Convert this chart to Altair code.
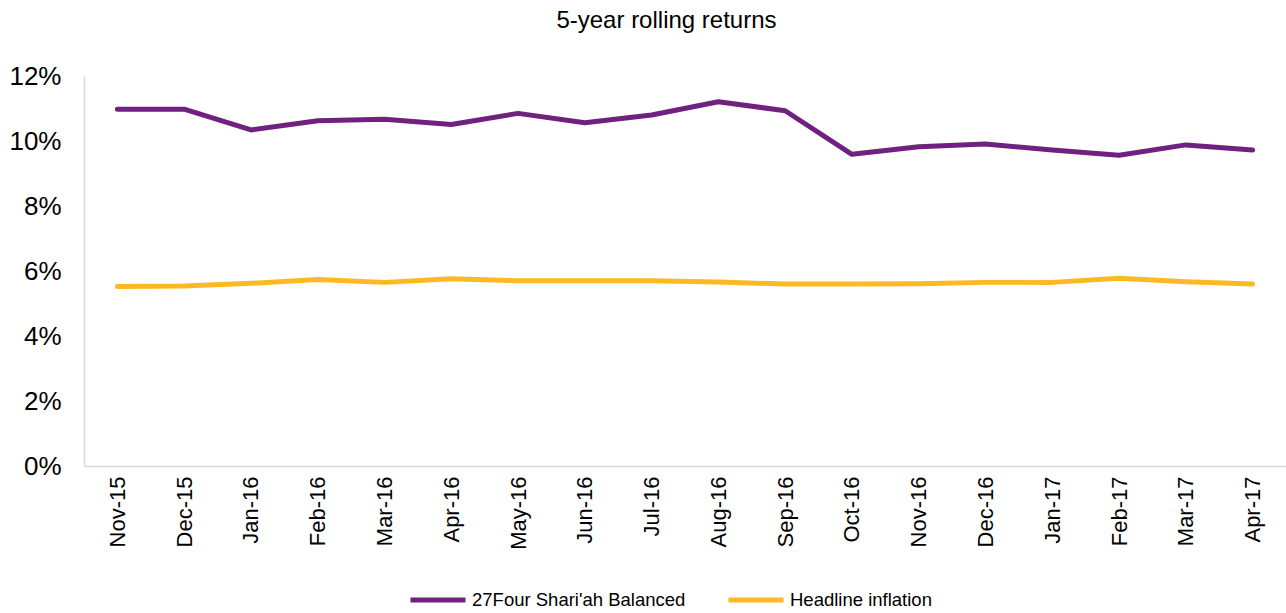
import altair as alt
import pandas as pd

months = ["Nov-15", "Dec-15", "Jan-16", "Feb-16", "Mar-16", "Apr-16", "May-16", "Jun-16",
          "Jul-16", "Aug-16", "Sep-16", "Oct-16", "Nov-16", "Dec-16", "Jan-17", "Feb-17",
          "Mar-17", "Apr-17"]
balanced = [10.98, 10.98, 10.34, 10.62, 10.67, 10.51, 10.85, 10.56, 10.80, 11.21, 10.93,
            9.59, 9.82, 9.91, 9.72, 9.56, 9.88, 9.72]
inflation = [5.52, 5.54, 5.62, 5.74, 5.65, 5.76, 5.70, 5.70, 5.70, 5.66, 5.60, 5.60,
             5.61, 5.65, 5.65, 5.78, 5.67, 5.60]
series_names = ["27Four Shari'ah Balanced", "Headline inflation"]
series_colors = ["#70207F", "#FDB924"]

rows = []
for i, m in enumerate(months):
    rows.append({"month": m, "series": series_names[0], "value": balanced[i], "order": i})
    rows.append({"month": m, "series": series_names[1], "value": inflation[i], "order": i})
df = pd.DataFrame(rows)

font = "Liberation Sans"

chart = alt.Chart(df).mark_line(strokeWidth=5, strokeCap="round", strokeJoin="round").encode(
    x=alt.X("month:N", sort=months, title=None,
            scale=alt.Scale(type="point", padding=0.5),
            axis=alt.Axis(labelAngle=-90, labelFontSize=22, labelFont=font, labelColor="#000000",
                          domainColor="#D9D9D9", domainWidth=1.5, ticks=False, labelPadding=10,
                          grid=False)),
    y=alt.Y("value:Q", title=None, scale=alt.Scale(domain=[0, 12], nice=False),
            axis=alt.Axis(values=[0, 2, 4, 6, 8, 10, 12], labelExpr="datum.value + '%'",
                          labelFontSize=26, labelFont=font, labelColor="#000000",
                          domainColor="#D9D9D9", domainWidth=1.5, ticks=False,
                          labelPadding=23, grid=False)),
    color=alt.Color("series:N", scale=alt.Scale(domain=series_names, range=series_colors),
                    legend=alt.Legend(title=None, orient="none", direction="horizontal",
                                      legendX=324, legendY=494, symbolType="stroke",
                                      symbolSize=3025, symbolStrokeWidth=5,
                                      labelFontSize=18.5, labelFont=font, labelColor="#000000",
                                      labelLimit=400, columnPadding=32, labelOffset=4)),
    order="order:Q",
).properties(
    width=1202,
    height=390,
    title=alt.TitleParams("5-year rolling returns", fontSize=24, font=font, fontWeight="normal",
                          color="#000000", anchor="middle", frame="bounds", offset=30, dx=19),
    autosize=alt.AutoSizeParams(type="none"),
    padding={"left": 84, "top": 76, "right": 0, "bottom": 147},
).configure_view(stroke=None)

chart.save("out.html", embed_options={"renderer": "svg", "actions": False})
